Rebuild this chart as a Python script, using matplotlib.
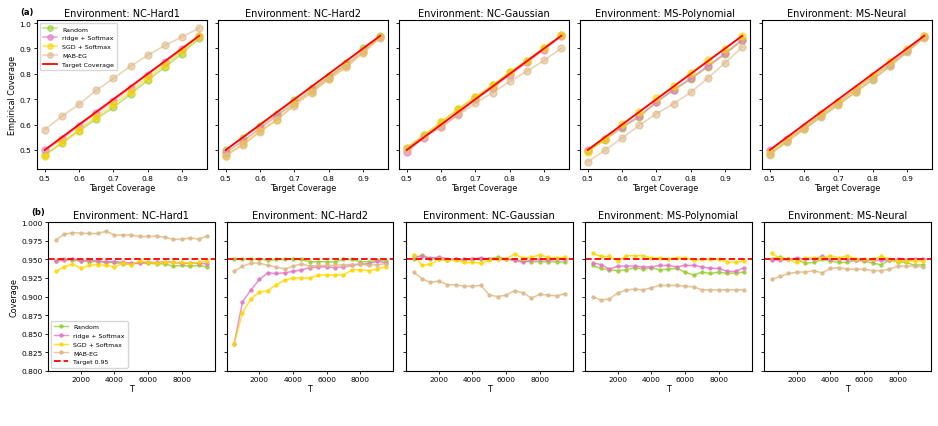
import numpy as np
import matplotlib
matplotlib.use("Agg")
import matplotlib.pyplot as plt

# ---------------- data ----------------
envs = ["NC-Hard1", "NC-Hard2", "NC-Gaussian", "MS-Polynomial", "MS-Neural"]
methods = ["Random", "ridge + Softmax", "SGD + Softmax", "MAB-EG"]
target_cov = [0.5, 0.55, 0.6, 0.65, 0.7, 0.75, 0.8, 0.85, 0.9, 0.95]

# empirical coverage (top row)
emp_random = [
    [0.480, 0.527, 0.575, 0.622, 0.668, 0.720, 0.775, 0.826, 0.880, 0.940],
    [0.500, 0.548, 0.594, 0.643, 0.695, 0.745, 0.790, 0.843, 0.902, 0.948],
    [0.509, 0.558, 0.609, 0.661, 0.709, 0.755, 0.806, 0.852, 0.903, 0.951],
    [0.495, 0.540, 0.588, 0.630, 0.688, 0.735, 0.778, 0.828, 0.878, 0.932],
    [0.485, 0.535, 0.583, 0.632, 0.680, 0.730, 0.780, 0.832, 0.888, 0.945],
]
emp_ridge = [
    [0.498, 0.543, 0.595, 0.645, 0.693, 0.745, 0.797, 0.847, 0.896, 0.948],
    [0.490, 0.535, 0.585, 0.635, 0.685, 0.735, 0.785, 0.835, 0.890, 0.945],
    [0.492, 0.548, 0.591, 0.640, 0.700, 0.745, 0.795, 0.845, 0.895, 0.948],
    [0.498, 0.545, 0.591, 0.634, 0.690, 0.738, 0.782, 0.831, 0.881, 0.934],
    [0.498, 0.545, 0.590, 0.640, 0.690, 0.740, 0.790, 0.840, 0.892, 0.947],
]
emp_sgd = [
    [0.478, 0.530, 0.580, 0.630, 0.680, 0.730, 0.785, 0.835, 0.888, 0.947],
    [0.478, 0.525, 0.575, 0.620, 0.680, 0.730, 0.780, 0.830, 0.885, 0.945],
    [0.509, 0.558, 0.609, 0.661, 0.709, 0.755, 0.806, 0.852, 0.903, 0.951],
    [0.492, 0.542, 0.601, 0.649, 0.703, 0.751, 0.804, 0.853, 0.899, 0.947],
    [0.487, 0.539, 0.587, 0.642, 0.685, 0.738, 0.792, 0.845, 0.897, 0.948],
]
emp_mab = [
    [0.580, 0.633, 0.680, 0.735, 0.782, 0.830, 0.873, 0.912, 0.946, 0.980],
    [0.477, 0.520, 0.571, 0.620, 0.675, 0.726, 0.778, 0.825, 0.882, 0.942],
    [0.503, 0.555, 0.590, 0.637, 0.684, 0.726, 0.770, 0.810, 0.853, 0.900],
    [0.453, 0.499, 0.547, 0.597, 0.643, 0.682, 0.727, 0.784, 0.843, 0.905],
    [0.480, 0.531, 0.581, 0.629, 0.677, 0.727, 0.776, 0.829, 0.884, 0.942],
]

# coverage over time (bottom row)
T_vals = [500, 1000, 1500, 2000, 2500, 3000, 3500, 4000, 4500, 5000,
          5500, 6000, 6500, 7000, 7500, 8000, 8500, 9000, 9500]
cov_random = [
    [0.948, 0.950, 0.949, 0.948, 0.947, 0.947, 0.946, 0.946, 0.944, 0.944, 0.946, 0.945, 0.944, 0.944, 0.941, 0.942, 0.941, 0.942, 0.940],
    [0.951, 0.951, 0.950, 0.951, 0.949, 0.950, 0.950, 0.951, 0.950, 0.947, 0.947, 0.947, 0.947, 0.950, 0.950, 0.947, 0.947, 0.949, 0.948],
    [0.951, 0.956, 0.951, 0.951, 0.949, 0.950, 0.949, 0.950, 0.950, 0.951, 0.953, 0.951, 0.949, 0.948, 0.947, 0.947, 0.947, 0.947, 0.946],
    [0.942, 0.938, 0.936, 0.935, 0.936, 0.939, 0.937, 0.939, 0.936, 0.937, 0.938, 0.933, 0.929, 0.933, 0.931, 0.933, 0.931, 0.932, 0.933],
    [0.951, 0.953, 0.950, 0.950, 0.945, 0.946, 0.950, 0.948, 0.946, 0.946, 0.949, 0.948, 0.945, 0.943, 0.949, 0.947, 0.946, 0.942, 0.943],
]
cov_ridge = [
    [0.948, 0.949, 0.951, 0.948, 0.949, 0.948, 0.947, 0.947, 0.946, 0.945, 0.945, 0.946, 0.946, 0.947, 0.946, 0.945, 0.945, 0.945, 0.944],
    [0.836, 0.893, 0.909, 0.923, 0.932, 0.931, 0.932, 0.934, 0.936, 0.939, 0.940, 0.940, 0.939, 0.940, 0.942, 0.944, 0.944, 0.948, 0.945],
    [0.954, 0.954, 0.952, 0.953, 0.951, 0.950, 0.950, 0.951, 0.952, 0.951, 0.950, 0.950, 0.949, 0.946, 0.949, 0.950, 0.949, 0.950, 0.950],
    [0.9455, 0.943, 0.937, 0.941, 0.941, 0.941, 0.940, 0.940, 0.942, 0.942, 0.940, 0.942, 0.942, 0.940, 0.938, 0.938, 0.934, 0.934, 0.939],
    [0.949, 0.949, 0.950, 0.952, 0.950, 0.951, 0.954, 0.950, 0.950, 0.950, 0.949, 0.949, 0.949, 0.949, 0.949, 0.950, 0.949, 0.950, 0.950],
]
cov_sgd = [
    [0.934, 0.940, 0.944, 0.938, 0.942, 0.943, 0.942, 0.940, 0.945, 0.943, 0.948, 0.946, 0.945, 0.947, 0.946, 0.946, 0.945, 0.946, 0.948],
    [0.836, 0.878, 0.897, 0.906, 0.908, 0.916, 0.922, 0.925, 0.925, 0.925, 0.929, 0.929, 0.929, 0.929, 0.936, 0.936, 0.935, 0.937, 0.940],
    [0.956, 0.942, 0.944, 0.950, 0.949, 0.949, 0.946, 0.946, 0.945, 0.949, 0.950, 0.951, 0.957, 0.952, 0.953, 0.956, 0.953, 0.952, 0.953],
    [0.958, 0.954, 0.954, 0.948, 0.955, 0.955, 0.955, 0.952, 0.952, 0.951, 0.952, 0.952, 0.949, 0.950, 0.950, 0.950, 0.947, 0.946, 0.948],
    [0.958, 0.952, 0.950, 0.946, 0.952, 0.952, 0.952, 0.955, 0.952, 0.955, 0.951, 0.950, 0.950, 0.954, 0.951, 0.948, 0.948, 0.948, 0.948],
]
cov_mab = [
    [0.976, 0.984, 0.986, 0.9855, 0.985, 0.985, 0.988, 0.983, 0.983, 0.983, 0.981, 0.981, 0.9815, 0.980, 0.977, 0.9775, 0.979, 0.9775, 0.9815],
    [0.934, 0.941, 0.945, 0.945, 0.942, 0.940, 0.937, 0.941, 0.944, 0.941, 0.942, 0.942, 0.942, 0.943, 0.943, 0.944, 0.942, 0.943, 0.944],
    [0.933, 0.924, 0.919, 0.921, 0.916, 0.916, 0.914, 0.914, 0.915, 0.902, 0.900, 0.902, 0.908, 0.905, 0.898, 0.903, 0.902, 0.901, 0.904],
    [0.900, 0.895, 0.897, 0.905, 0.909, 0.910, 0.909, 0.912, 0.915, 0.915, 0.915, 0.914, 0.913, 0.909, 0.909, 0.909, 0.909, 0.909, 0.909],
    [0.923, 0.927, 0.931, 0.933, 0.933, 0.935, 0.932, 0.938, 0.939, 0.937, 0.937, 0.937, 0.935, 0.935, 0.937, 0.941, 0.941, 0.941, 0.940],
]
target_level = 0.95

# ---------------- style ----------------
colors = {"Random": "#9ACD32", "ridge + Softmax": "#E377C2",
          "SGD + Softmax": "#FFD700", "MAB-EG": "#DEB887"}
band_hw = 0.0012

W, H = 938, 427
fig = plt.figure(figsize=(W / 100, H / 100), dpi=100)

def px_axes(left, top, width, height):
    return fig.add_axes([left / W, 1 - (top + height) / H, width / W, height / H])

top_lefts = [37, 218, 399, 580, 762]
bot_lefts = [48, 226.5, 406, 585, 764]

TICK_FS = 5.4
TITLE_FS = 7
LABEL_FS = 5.8
LEG_FS = 4.5

emp_all = [emp_random, emp_ridge, emp_sgd, emp_mab]
cov_all = [cov_random, cov_ridge, cov_sgd, cov_mab]

for i, env in enumerate(envs):
    ax = px_axes(top_lefts[i], 21, 170, 149)
    for m, data in zip(methods, emp_all):
        ax.plot(target_cov, data[i], "-o", color=colors[m], alpha=0.6,
                markersize=5, linewidth=1.2, label=m)
    ax.plot(target_cov, target_cov, color="red", linewidth=1.3, label="Target Coverage")
    ax.set_title(f"Environment: {env}", fontsize=TITLE_FS, pad=3)
    ax.set_xlabel("Target Coverage", fontsize=LABEL_FS, labelpad=2)
    ax.set_ylim(0.425, 1.012)
    ax.set_yticks([0.5, 0.6, 0.7, 0.8, 0.9, 1.0])
    ax.set_xticks([0.5, 0.6, 0.7, 0.8, 0.9])
    ax.tick_params(labelsize=TICK_FS, length=2.5, width=0.6, pad=1.5)
    if i == 0:
        ax.set_ylabel("Empirical Coverage", fontsize=LABEL_FS, labelpad=2)
        ax.legend(loc="upper left", fontsize=LEG_FS, framealpha=0.8,
                  handlelength=2.2, borderpad=0.5, labelspacing=0.55,
                  markerscale=0.8)
    else:
        ax.tick_params(labelleft=False)

for i, env in enumerate(envs):
    ax = px_axes(bot_lefts[i], 223.3, 166.6, 148.4)
    for m, data in zip(methods, cov_all):
        y = np.array(data[i])
        ax.fill_between(T_vals, y - band_hw, y + band_hw, color=colors[m], alpha=0.2, linewidth=0)
        ax.plot(T_vals, y, "-o", color=colors[m], alpha=0.8, markersize=2.2,
                linewidth=1.0, label=m)
    ax.axhline(target_level, color="red", linestyle="--", linewidth=1.3,
               label=f"Target {target_level}")
    ax.set_title(f"Environment: {env}", fontsize=TITLE_FS, pad=3)
    ax.set_xlabel("T", fontsize=LABEL_FS, labelpad=1.5)
    ax.set_ylim(0.8, 1.0)
    ax.set_yticks(np.arange(0.8, 1.0001, 0.025))
    ax.set_xticks([2000, 4000, 6000, 8000])
    ax.tick_params(labelsize=TICK_FS, length=2.5, width=0.6, pad=1.5)
    if i == 0:
        ax.set_yticklabels([f"{v:.3f}" for v in np.arange(0.8, 1.0001, 0.025)])
        ax.set_ylabel("Coverage", fontsize=LABEL_FS, labelpad=2)
        ax.legend(loc="lower left", fontsize=LEG_FS, framealpha=0.8,
                  handlelength=2.2, borderpad=0.5, labelspacing=0.55)
    else:
        ax.tick_params(labelleft=False)

fig.text(27 / W, 1 - 13 / H, "(a)", fontsize=6, fontweight="bold", ha="center", va="center")
fig.text(38 / W, 1 - 213 / H, "(b)", fontsize=6, fontweight="bold", ha="center", va="center")

fig.savefig("out.png", dpi=100)
